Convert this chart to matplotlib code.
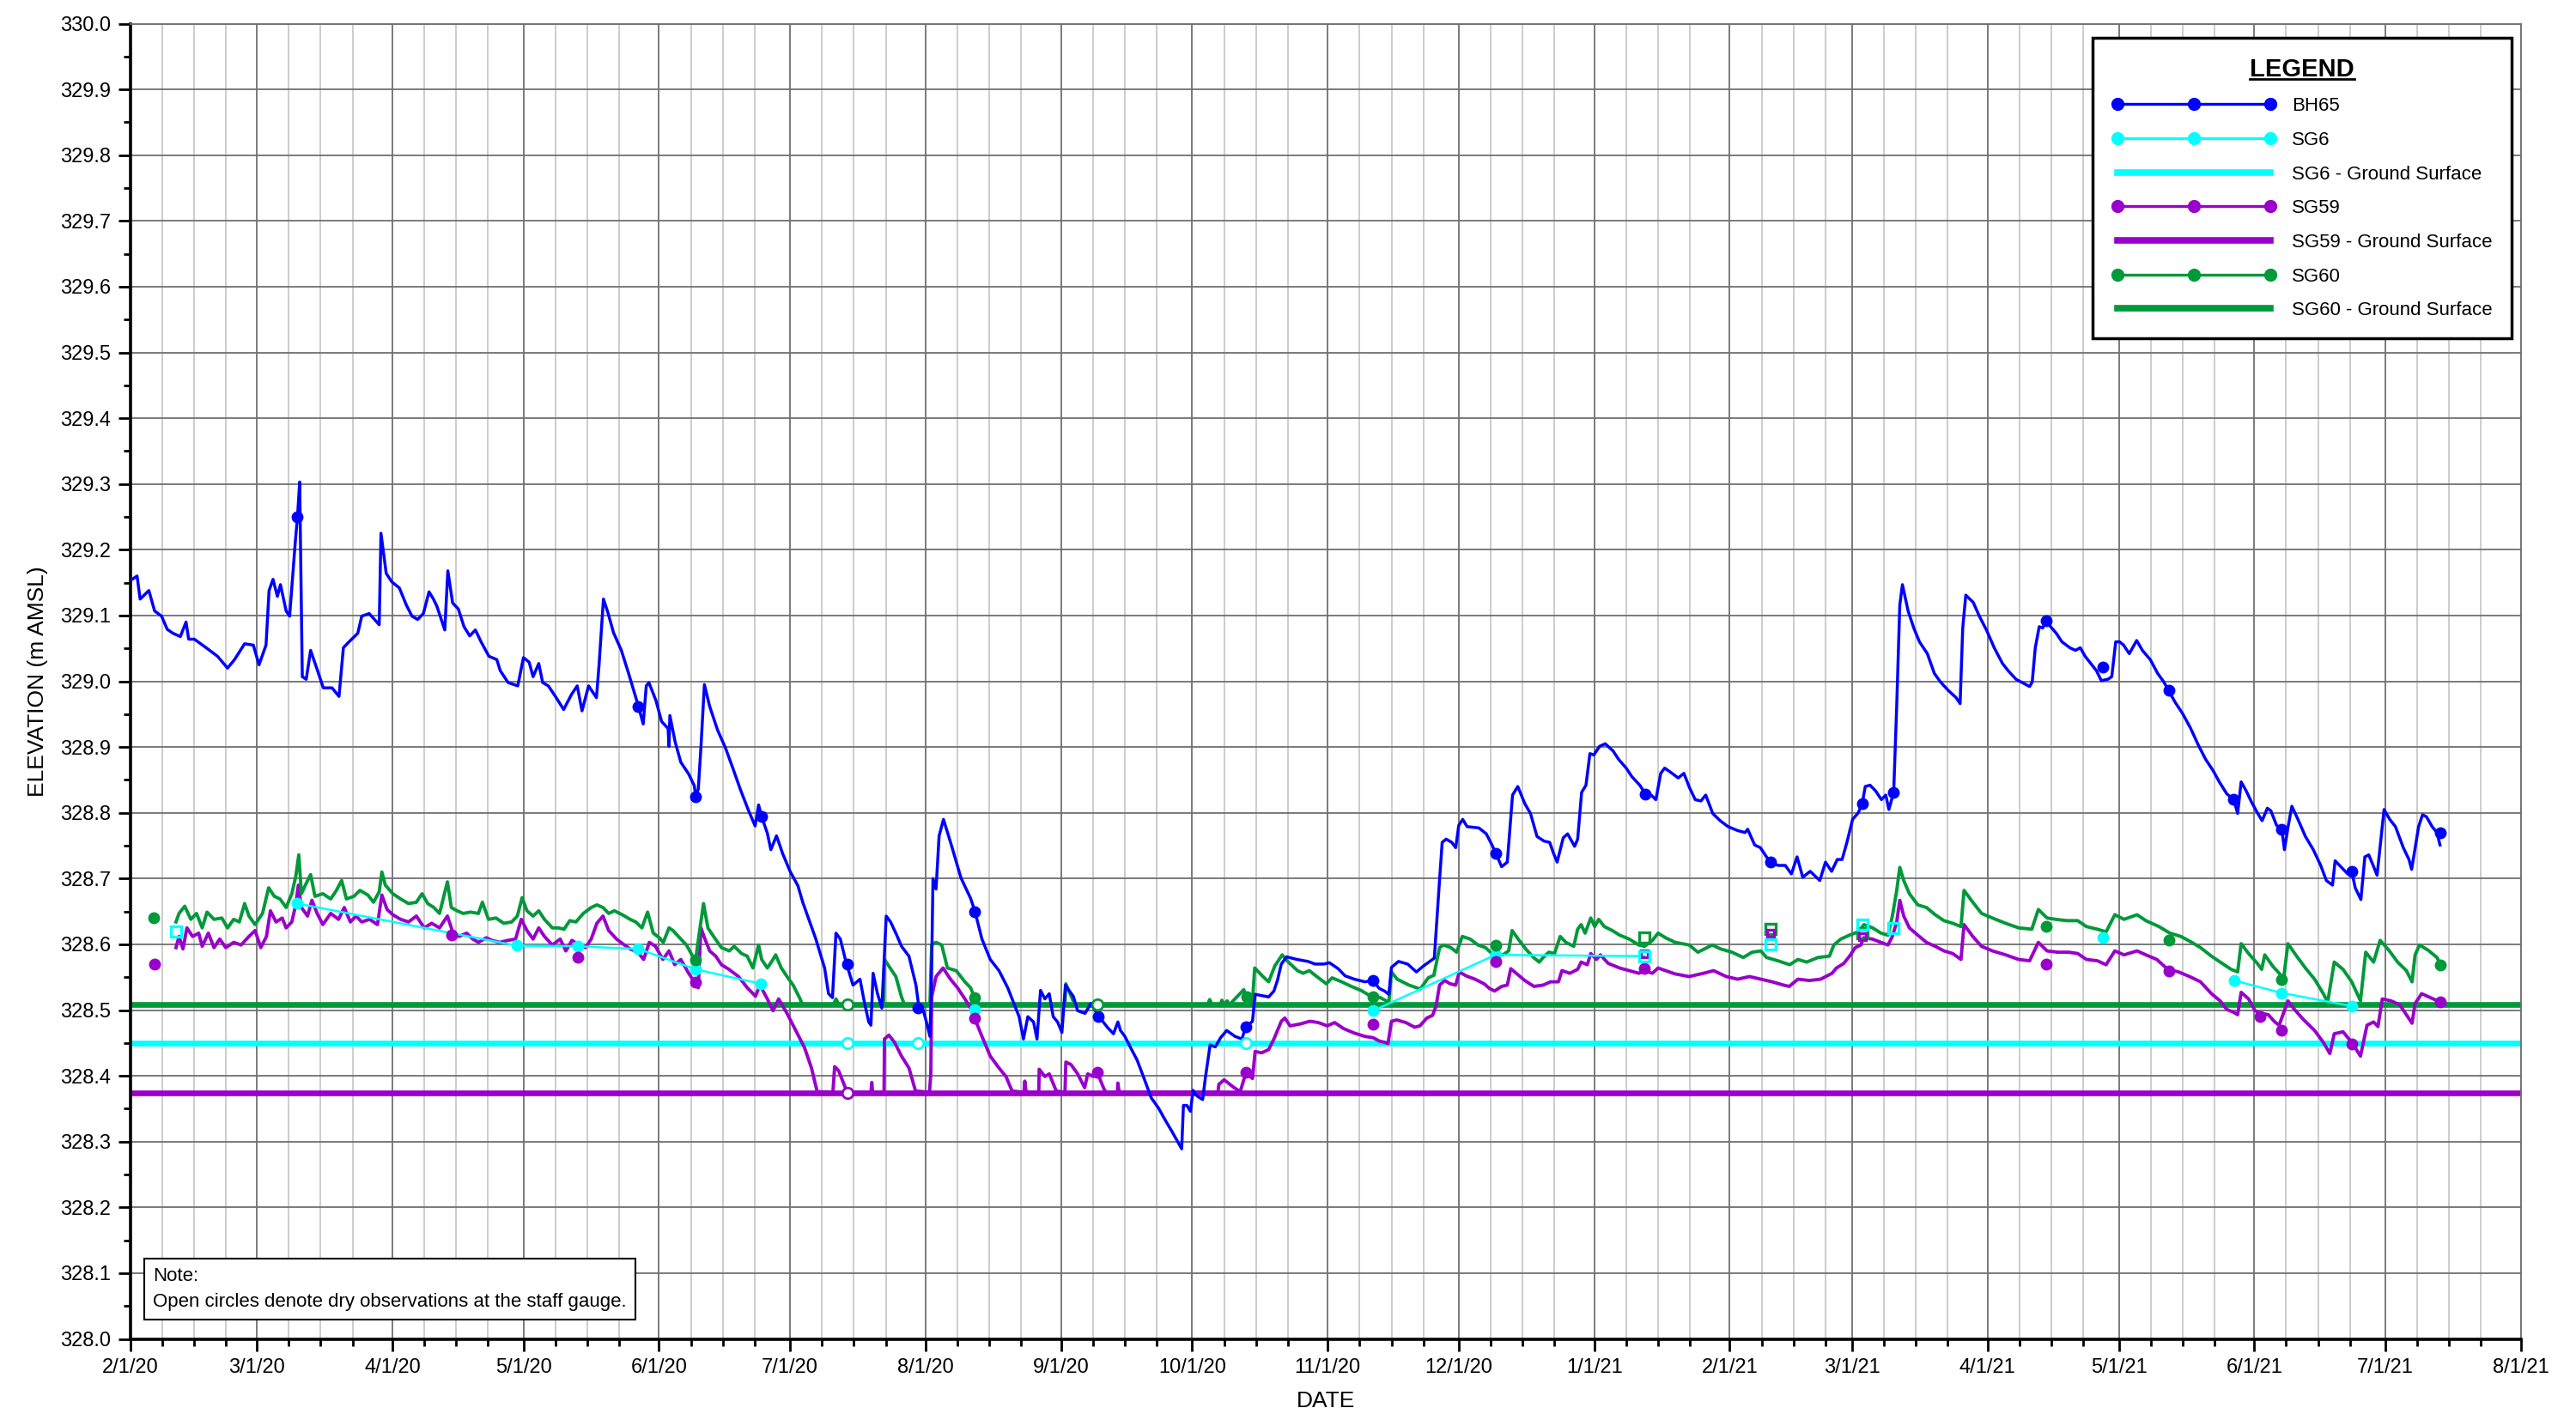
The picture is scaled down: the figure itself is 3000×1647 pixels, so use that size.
import matplotlib
matplotlib.use('Agg')
import matplotlib.pyplot as plt
import matplotlib.dates as mdates
from matplotlib.lines import Line2D
from matplotlib.ticker import FixedLocator, MultipleLocator, FormatStrFormatter
import numpy as np
import pandas as pd

nan = float('nan')
START = pd.Timestamp('2020-02-01')
END = pd.Timestamp('2021-08-01')

# logger records: (days since 2/1/20, elevation m AMSL)
bh65_log = [
    (0.0, 329.153), (1.6, 329.160), (2.3, 329.125), (4.3, 329.138), (5.6, 329.107), (7.2, 329.099),
    (8.5, 329.079), (9.8, 329.073), (11.5, 329.068), (12.8, 329.090), (13.4, 329.064), (14.7, 329.064),
    (17.4, 329.051), (20.0, 329.038), (22.3, 329.020), (23.9, 329.033), (26.2, 329.057), (28.2, 329.055),
    (29.5, 329.025), (31.1, 329.055), (31.8, 329.138), (32.7, 329.155), (33.7, 329.129), (34.4, 329.147),
    (35.7, 329.107), (36.5, 329.099), (37.0, 329.142), (37.8, 329.212), (38.3, 329.250), (38.8, 329.303),
    (39.2, 329.100), (39.4, 329.007), (40.3, 329.003), (41.3, 329.047), (42.9, 329.016), (44.2, 328.990),
    (46.2, 328.990), (47.8, 328.977), (48.8, 329.051), (50.1, 329.060), (52.1, 329.073), (53.0, 329.099),
    (54.7, 329.103), (57.0, 329.086), (57.4, 329.225), (58.6, 329.164), (59.9, 329.151), (61.6, 329.142),
    (63.2, 329.116), (64.5, 329.099), (65.8, 329.094), (67.1, 329.103), (68.4, 329.136), (69.4, 329.125),
    (70.2, 329.114), (72.0, 329.078), (72.7, 329.168), (73.8, 329.119), (75.1, 329.110), (76.4, 329.083),
    (77.7, 329.069), (79.0, 329.078), (80.3, 329.060), (82.1, 329.038), (83.9, 329.033), (84.7, 329.016),
    (86.5, 328.998), (88.7, 328.993), (90.0, 329.036), (91.3, 329.029), (92.2, 329.007), (93.5, 329.027),
    (94.4, 328.998), (95.7, 328.993), (97.5, 328.975), (99.2, 328.957), (101.0, 328.980), (102.3, 328.993),
    (103.4, 328.955), (104.9, 328.993), (106.7, 328.975), (107.3, 329.025), (108.3, 329.125), (109.3, 329.105),
    (110.6, 329.074), (112.4, 329.047), (114.1, 329.011), (115.5, 328.980), (116.3, 328.962), (117.4, 328.935),
    (118.1, 328.993), (118.7, 328.998), (120.3, 328.971), (121.6, 328.939), (123.1, 328.928), (123.3, 328.901),
    (123.5, 328.948), (124.7, 328.908), (126.0, 328.877), (127.8, 328.859), (129.1, 328.841), (129.4, 328.825),
    (130.0, 328.836), (130.6, 328.899), (131.4, 328.995), (132.6, 328.962), (134.4, 328.926), (136.2, 328.899),
    (137.9, 328.868), (139.6, 328.836), (141.4, 328.805), (143.0, 328.780), (143.8, 328.812), (144.5, 328.794),
    (145.8, 328.769), (146.6, 328.744), (147.9, 328.765), (149.3, 328.738), (151.0, 328.711), (152.8, 328.689),
    (153.9, 328.664), (156.9, 328.608), (158.9, 328.564), (159.8, 328.525), (160.7, 328.519), (161.5, 328.617),
    (162.5, 328.608), (163.8, 328.573), (165.4, 328.538), (167.0, 328.547), (168.0, 328.512), (169.0, 328.482),
    (169.5, 328.477), (170.0, 328.556), (171.0, 328.525), (172.0, 328.503), (173.0, 328.643), (174.0, 328.634),
    (175.2, 328.617), (176.5, 328.597), (178.2, 328.582), (179.8, 328.538), (180.5, 328.503), (181.5, 328.499),
    (182.4, 328.477), (183.0, 328.460), (183.3, 328.525), (183.7, 328.700), (184.4, 328.684), (185.1, 328.765),
    (186.1, 328.790), (187.9, 328.751), (190.1, 328.701), (192.3, 328.670), (193.3, 328.650), (194.9, 328.608),
    (196.8, 328.577), (198.8, 328.560), (200.8, 328.534), (202.1, 328.512), (203.4, 328.490), (204.4, 328.456),
    (205.4, 328.490), (206.7, 328.482), (207.5, 328.456), (208.3, 328.530), (209.3, 328.517), (210.3, 328.525),
    (211.2, 328.490), (212.2, 328.482), (213.2, 328.466), (214.0, 328.538), (214.8, 328.530), (215.8, 328.521),
    (216.8, 328.499), (218.5, 328.495), (219.8, 328.510), (221.7, 328.490), (223.7, 328.473), (225.0, 328.464),
    (226.0, 328.482), (226.6, 328.469), (227.6, 328.460), (228.9, 328.443), (230.4, 328.424), (232.0, 328.396),
    (233.6, 328.367), (235.3, 328.351), (236.9, 328.332), (238.5, 328.314), (240.6, 328.289), (241.0, 328.355),
    (241.8, 328.355), (242.6, 328.346), (243.2, 328.378), (244.2, 328.369), (245.4, 328.364), (246.0, 328.396),
    (247.1, 328.447), (248.3, 328.444), (249.5, 328.458), (250.9, 328.469), (252.8, 328.460), (254.4, 328.456),
    (255.2, 328.474), (256.8, 328.483), (257.4, 328.524), (258.9, 328.522), (260.5, 328.520), (261.7, 328.529),
    (262.5, 328.545), (263.4, 328.570), (264.6, 328.581), (267.0, 328.577), (269.5, 328.574), (271.1, 328.570),
    (273.1, 328.570), (274.4, 328.572), (276.4, 328.563), (278.0, 328.552), (280.1, 328.547), (282.5, 328.543),
    (284.3, 328.545), (285.8, 328.533), (287.0, 328.529), (288.0, 328.524), (288.6, 328.565), (290.2, 328.574),
    (292.3, 328.570), (294.3, 328.558), (295.9, 328.567), (298.4, 328.579), (299.6, 328.698), (300.2, 328.755),
    (301.1, 328.760), (302.4, 328.755), (303.3, 328.747), (304.0, 328.781), (304.9, 328.790), (305.9, 328.779),
    (308.6, 328.777), (310.3, 328.768), (311.6, 328.751), (312.5, 328.738), (313.8, 328.718), (315.1, 328.725),
    (316.3, 328.827), (317.5, 328.840), (319.1, 328.814), (320.4, 328.799), (321.9, 328.764), (323.5, 328.757),
    (324.8, 328.755), (325.7, 328.738), (326.5, 328.725), (327.9, 328.762), (328.9, 328.768), (330.5, 328.749),
    (331.2, 328.760), (332.1, 328.831), (333.1, 328.842), (334.0, 328.890), (334.9, 328.888), (336.2, 328.901),
    (337.5, 328.905), (339.3, 328.894), (340.6, 328.881), (342.3, 328.868), (343.6, 328.855), (345.4, 328.842),
    (346.7, 328.829), (348.0, 328.827), (349.1, 328.820), (350.2, 328.860), (351.1, 328.868), (352.4, 328.862),
    (354.2, 328.853), (355.5, 328.860), (356.8, 328.838), (358.1, 328.820), (359.4, 328.818), (360.5, 328.827),
    (362.1, 328.799), (363.8, 328.788), (365.6, 328.779), (367.8, 328.773), (369.5, 328.770), (370.1, 328.775),
    (371.7, 328.751), (373.0, 328.747), (374.4, 328.733), (375.2, 328.725), (377.0, 328.720), (378.7, 328.720),
    (380.1, 328.707), (381.4, 328.733), (382.7, 328.702), (384.4, 328.711), (386.6, 328.697), (387.9, 328.725),
    (389.3, 328.711), (390.6, 328.729), (391.7, 328.729), (392.8, 328.755), (394.1, 328.790), (395.4, 328.800),
    (396.3, 328.814), (397.0, 328.840), (398.1, 328.842), (399.4, 328.833), (400.7, 328.820), (401.7, 328.827),
    (402.4, 328.805), (403.5, 328.831), (404.2, 328.964), (404.9, 329.116), (405.5, 329.147), (406.8, 329.107),
    (408.1, 329.081), (409.4, 329.060), (411.2, 329.042), (412.8, 329.012), (414.2, 328.999), (416.0, 328.986),
    (417.8, 328.975), (418.7, 328.966), (419.3, 329.081), (420.0, 329.131), (421.7, 329.120), (423.1, 329.099),
    (424.8, 329.077), (426.5, 329.051), (428.4, 329.027), (429.7, 329.016), (431.5, 329.003), (433.2, 328.997),
    (434.6, 328.992), (435.2, 328.999), (435.9, 329.051), (436.8, 329.083), (437.6, 329.081), (438.3, 329.092),
    (439.4, 329.083), (440.7, 329.073), (442.0, 329.060), (443.8, 329.051), (445.1, 329.047), (446.2, 329.051),
    (447.3, 329.038), (448.6, 329.027), (449.9, 329.016), (451.0, 329.001), (452.5, 329.003), (453.4, 329.007),
    (454.3, 329.060), (455.2, 329.060), (456.1, 329.055), (457.4, 329.042), (459.1, 329.062), (460.4, 329.047),
    (462.2, 329.033), (463.9, 329.012), (465.3, 328.999), (466.4, 328.986), (467.9, 328.968), (469.6, 328.951),
    (471.4, 328.929), (473.2, 328.903), (474.9, 328.881), (476.6, 328.864), (478.0, 328.847), (479.7, 328.829),
    (481.3, 328.820), (482.2, 328.799), (483.0, 328.847), (484.1, 328.834), (485.4, 328.816), (486.8, 328.799),
    (487.8, 328.788), (489.0, 328.807), (489.8, 328.803), (491.1, 328.781), (492.3, 328.775), (492.9, 328.744),
    (493.8, 328.781), (494.6, 328.810), (496.0, 328.790), (497.7, 328.764), (499.5, 328.744), (501.2, 328.720),
    (502.5, 328.697), (503.9, 328.690), (504.5, 328.727), (506.1, 328.716), (507.4, 328.707), (508.3, 328.711),
    (509.1, 328.686), (510.4, 328.668), (511.3, 328.733), (512.2, 328.736), (513.2, 328.720), (514.1, 328.705),
    (515.7, 328.805), (517.0, 328.790), (518.3, 328.779), (520.1, 328.747), (521.4, 328.729), (522.0, 328.714),
    (522.7, 328.742), (523.6, 328.779), (524.5, 328.797), (525.4, 328.794), (526.7, 328.779), (527.8, 328.770),
    (528.5, 328.751),
]

sg60_log = [
    (10.5, 328.634), (11.2, 328.647), (12.5, 328.658), (13.9, 328.638), (15.2, 328.647), (16.5, 328.625),
    (17.6, 328.649), (19.2, 328.638), (21.0, 328.640), (22.3, 328.625), (23.7, 328.638), (25.0, 328.634),
    (26.2, 328.662), (27.2, 328.643), (28.6, 328.630), (30.3, 328.647), (31.7, 328.686), (33.0, 328.673),
    (34.3, 328.669), (35.7, 328.656), (37.0, 328.677), (37.9, 328.703), (38.6, 328.736), (39.2, 328.677),
    (40.1, 328.690), (41.3, 328.706), (42.3, 328.673), (44.1, 328.677), (45.9, 328.669), (47.2, 328.682),
    (48.4, 328.697), (49.5, 328.669), (51.2, 328.673), (52.6, 328.682), (54.4, 328.675), (55.7, 328.664),
    (57.0, 328.680), (57.6, 328.710), (58.4, 328.690), (60.1, 328.677), (61.9, 328.669), (63.7, 328.662),
    (65.5, 328.664), (66.8, 328.677), (68.1, 328.662), (69.5, 328.656), (70.8, 328.647), (72.6, 328.695),
    (73.5, 328.656), (74.8, 328.651), (76.2, 328.647), (77.9, 328.649), (79.7, 328.647), (80.6, 328.664),
    (82.0, 328.638), (83.7, 328.640), (85.5, 328.632), (87.3, 328.634), (88.6, 328.643), (89.7, 328.671),
    (90.8, 328.651), (92.2, 328.643), (93.5, 328.651), (94.8, 328.638), (96.6, 328.625), (98.0, 328.625),
    (99.3, 328.623), (100.6, 328.636), (102.0, 328.634), (103.7, 328.647), (105.5, 328.656), (106.8, 328.660),
    (108.2, 328.656), (109.5, 328.647), (110.8, 328.651), (112.6, 328.645), (114.4, 328.638), (115.7, 328.634),
    (117.1, 328.625), (118.4, 328.649), (119.7, 328.617), (121.1, 328.610), (122.0, 328.603), (123.3, 328.625),
    (124.2, 328.621), (126.0, 328.608), (127.3, 328.599), (128.7, 328.582), (129.4, 328.577), (130.4, 328.625),
    (131.2, 328.662), (132.2, 328.625), (133.5, 328.612), (135.3, 328.595), (137.1, 328.590), (138.2, 328.597),
    (139.9, 328.586), (141.2, 328.582), (142.5, 328.564), (143.8, 328.599), (144.5, 328.577), (145.8, 328.564),
    (147.1, 328.577), (147.7, 328.584), (149.0, 328.564), (150.3, 328.551), (151.7, 328.538), (153.3, 328.517),
    (153.8, 328.508), (160.9, 328.508), (161.5, 328.517), (162.2, 328.508), (172.4, 328.508), (172.6, 328.577),
    (175.2, 328.551), (176.5, 328.520), (177.2, 328.508), (183.0, 328.508), (183.4, 328.599), (184.4, 328.603),
    (185.7, 328.599), (187.0, 328.564), (189.0, 328.560), (191.0, 328.543), (192.3, 328.534), (193.2, 328.519),
    (194.0, 328.508), (213.9, 328.508), (214.1, 328.540), (215.7, 328.515), (216.5, 328.508), (246.5, 328.508),
    (247.0, 328.516), (247.6, 328.508), (249.4, 328.508), (249.8, 328.515), (250.3, 328.508), (251.0, 328.514),
    (251.5, 328.508), (254.8, 328.531), (255.5, 328.519), (256.8, 328.513), (257.3, 328.564), (259.2, 328.551),
    (260.5, 328.543), (261.9, 328.567), (263.6, 328.584), (265.0, 328.573), (267.1, 328.560), (268.4, 328.556),
    (269.8, 328.560), (271.5, 328.551), (273.7, 328.540), (275.0, 328.549), (277.2, 328.543), (279.4, 328.536),
    (281.6, 328.530), (283.4, 328.523), (286.0, 328.519), (288.0, 328.512), (288.6, 328.558), (289.9, 328.547),
    (292.6, 328.538), (295.2, 328.532), (297.0, 328.549), (298.3, 328.553), (299.6, 328.595), (300.5, 328.599),
    (302.2, 328.595), (303.5, 328.588), (304.8, 328.612), (306.6, 328.608), (308.4, 328.599), (310.1, 328.595),
    (311.9, 328.584), (314.1, 328.584), (315.4, 328.590), (316.2, 328.621), (317.6, 328.608), (319.3, 328.593),
    (321.1, 328.580), (322.4, 328.573), (323.3, 328.580), (324.6, 328.588), (325.9, 328.586), (327.2, 328.612),
    (328.5, 328.603), (330.3, 328.597), (331.2, 328.623), (332.0, 328.630), (332.9, 328.617), (334.2, 328.640),
    (335.1, 328.627), (336.0, 328.638), (337.3, 328.627), (339.1, 328.621), (340.8, 328.614), (343.0, 328.608),
    (345.2, 328.599), (346.5, 328.597), (348.3, 328.606), (349.6, 328.617), (351.3, 328.610), (353.5, 328.603),
    (356.7, 328.599), (358.7, 328.588), (362.0, 328.599), (363.9, 328.593), (366.5, 328.588), (369.1, 328.580),
    (371.1, 328.588), (373.1, 328.590), (374.4, 328.580), (377.0, 328.575), (379.7, 328.569), (381.6, 328.577),
    (383.6, 328.573), (386.2, 328.580), (388.8, 328.582), (389.8, 328.599), (391.4, 328.608), (393.4, 328.614),
    (395.4, 328.619), (396.7, 328.630), (398.7, 328.625), (400.6, 328.617), (402.2, 328.614), (403.2, 328.643),
    (404.2, 328.682), (404.9, 328.717), (405.8, 328.697), (407.1, 328.677), (409.0, 328.660), (411.0, 328.656),
    (413.0, 328.645), (415.0, 328.636), (417.0, 328.632), (418.9, 328.627), (419.6, 328.682), (421.6, 328.664),
    (423.6, 328.647), (426.1, 328.640), (429.1, 328.632), (432.1, 328.625), (435.1, 328.623), (436.6, 328.653),
    (438.6, 328.640), (440.6, 328.638), (443.1, 328.636), (445.6, 328.636), (447.6, 328.627), (450.1, 328.623),
    (452.1, 328.619), (454.1, 328.645), (456.2, 328.638), (459.2, 328.645), (461.2, 328.636), (464.2, 328.627),
    (466.7, 328.617), (469.2, 328.612), (471.7, 328.603), (473.7, 328.595), (476.2, 328.582), (478.2, 328.573),
    (480.7, 328.562), (482.2, 328.558), (483.0, 328.601), (484.7, 328.586), (486.7, 328.571), (487.7, 328.562),
    (488.4, 328.584), (490.2, 328.567), (491.7, 328.556), (492.7, 328.547), (493.7, 328.601), (495.7, 328.582),
    (497.7, 328.564), (499.8, 328.547), (501.8, 328.525), (502.8, 328.512), (504.3, 328.573), (506.3, 328.562),
    (508.3, 328.543), (510.3, 328.514), (511.5, 328.588), (513.3, 328.573), (514.8, 328.606), (516.8, 328.591),
    (518.8, 328.573), (520.8, 328.560), (522.1, 328.543), (522.8, 328.584), (523.8, 328.599), (525.8, 328.591),
    (527.8, 328.580), (528.6, 328.569),
]

sg59_log = [
    (10.5, 328.595), (11.2, 328.612), (12.1, 328.593), (13.0, 328.625), (14.3, 328.612), (15.7, 328.617),
    (16.5, 328.597), (17.9, 328.617), (19.2, 328.595), (20.5, 328.608), (21.9, 328.595), (23.7, 328.603),
    (25.4, 328.599), (27.2, 328.612), (28.6, 328.621), (29.9, 328.595), (31.2, 328.612), (32.1, 328.651),
    (33.4, 328.634), (34.8, 328.640), (35.7, 328.625), (37.0, 328.634), (37.9, 328.660), (38.5, 328.690),
    (39.2, 328.656), (40.6, 328.643), (41.6, 328.667), (42.8, 328.647), (44.1, 328.630), (45.9, 328.647),
    (47.7, 328.638), (49.0, 328.656), (50.4, 328.634), (51.7, 328.643), (53.0, 328.634), (54.8, 328.638),
    (56.6, 328.630), (57.6, 328.675), (58.8, 328.653), (60.1, 328.645), (61.9, 328.638), (63.7, 328.634),
    (65.5, 328.643), (67.3, 328.625), (69.0, 328.632), (70.8, 328.625), (72.6, 328.643), (73.9, 328.617),
    (75.3, 328.612), (77.0, 328.617), (78.4, 328.608), (79.7, 328.603), (81.5, 328.610), (82.8, 328.606),
    (84.6, 328.603), (86.4, 328.606), (88.2, 328.608), (89.5, 328.638), (90.8, 328.621), (92.2, 328.608),
    (93.5, 328.625), (94.8, 328.612), (96.6, 328.599), (98.4, 328.608), (99.7, 328.590), (101.1, 328.606),
    (102.8, 328.599), (104.2, 328.595), (105.5, 328.608), (106.8, 328.632), (108.2, 328.643), (109.5, 328.621),
    (111.3, 328.608), (113.1, 328.599), (114.4, 328.593), (116.2, 328.588), (117.5, 328.577), (118.8, 328.603),
    (120.2, 328.597), (121.9, 328.577), (123.3, 328.590), (124.6, 328.569), (126.0, 328.577), (127.8, 328.556),
    (129.1, 328.543), (130.0, 328.534), (130.6, 328.625), (131.3, 328.612), (132.6, 328.590), (134.0, 328.582),
    (135.3, 328.569), (137.0, 328.562), (139.2, 328.551), (141.2, 328.534), (143.1, 328.521), (144.1, 328.538),
    (145.8, 328.517), (147.1, 328.499), (148.4, 328.517), (150.3, 328.495), (152.3, 328.469), (154.3, 328.443),
    (155.9, 328.412), (157.2, 328.376), (160.8, 328.375), (161.2, 328.414), (162.1, 328.408), (163.4, 328.386),
    (164.1, 328.375), (169.5, 328.375), (169.7, 328.390), (169.9, 328.375), (172.5, 328.375), (172.6, 328.456),
    (173.6, 328.462), (174.9, 328.451), (176.5, 328.430), (178.2, 328.412), (179.7, 328.377), (182.9, 328.375),
    (183.2, 328.403), (183.4, 328.520), (184.4, 328.551), (186.0, 328.564), (187.7, 328.547), (189.3, 328.534),
    (191.0, 328.517), (192.3, 328.503), (193.2, 328.488), (194.9, 328.460), (196.8, 328.430), (198.8, 328.412),
    (200.4, 328.399), (201.8, 328.377), (204.5, 328.375), (204.7, 328.392), (205.0, 328.375), (207.9, 328.375),
    (208.0, 328.410), (209.3, 328.399), (210.3, 328.403), (211.9, 328.377), (213.9, 328.375), (214.1, 328.421),
    (215.3, 328.417), (216.8, 328.403), (218.4, 328.382), (219.1, 328.403), (220.4, 328.399), (221.3, 328.405),
    (222.7, 328.382), (223.2, 328.375), (225.9, 328.375), (226.0, 328.389), (226.3, 328.375), (248.9, 328.375),
    (249.1, 328.387), (250.3, 328.394), (252.4, 328.383), (254.0, 328.376), (255.3, 328.405), (256.8, 328.396),
    (257.4, 328.437), (258.9, 328.435), (260.5, 328.440), (261.7, 328.456), (263.4, 328.483), (264.2, 328.488),
    (265.4, 328.476), (267.8, 328.479), (269.9, 328.483), (271.9, 328.481), (273.9, 328.476), (275.6, 328.481),
    (277.6, 328.472), (280.1, 328.465), (282.5, 328.460), (284.4, 328.458), (285.8, 328.453), (287.0, 328.451),
    (287.8, 328.449), (288.6, 328.483), (289.8, 328.485), (291.9, 328.481), (293.9, 328.474), (295.1, 328.476),
    (296.7, 328.488), (298.0, 328.492), (298.8, 328.506), (299.6, 328.538), (300.8, 328.545), (302.0, 328.540),
    (303.3, 328.538), (304.1, 328.558), (305.7, 328.552), (307.7, 328.547), (309.8, 328.540), (311.0, 328.533),
    (312.2, 328.529), (313.8, 328.536), (315.1, 328.538), (315.9, 328.563), (317.5, 328.554), (319.1, 328.545),
    (321.2, 328.536), (323.3, 328.538), (325.0, 328.543), (326.8, 328.543), (327.6, 328.560), (329.4, 328.556),
    (331.2, 328.562), (332.0, 328.573), (333.4, 328.569), (334.2, 328.586), (335.5, 328.577), (336.4, 328.584),
    (338.2, 328.571), (340.8, 328.564), (343.0, 328.560), (345.2, 328.556), (346.5, 328.560), (348.3, 328.556),
    (349.6, 328.564), (351.3, 328.560), (353.5, 328.555), (356.7, 328.551), (360.0, 328.556), (362.3, 328.560),
    (365.2, 328.551), (367.8, 328.547), (370.5, 328.551), (373.1, 328.547), (375.7, 328.543), (378.3, 328.538),
    (379.6, 328.536), (381.6, 328.547), (384.2, 328.545), (386.8, 328.547), (389.4, 328.556), (390.4, 328.564),
    (392.1, 328.571), (393.4, 328.582), (394.7, 328.595), (396.0, 328.599), (396.6, 328.610), (398.6, 328.608),
    (400.6, 328.603), (402.2, 328.599), (403.2, 328.612), (404.2, 328.634), (404.9, 328.667), (405.8, 328.643),
    (407.1, 328.625), (409.0, 328.614), (411.0, 328.603), (413.0, 328.597), (415.0, 328.590), (417.0, 328.586),
    (418.9, 328.577), (419.6, 328.630), (421.6, 328.612), (423.6, 328.597), (426.1, 328.590), (429.1, 328.584),
    (432.1, 328.577), (434.6, 328.575), (436.6, 328.603), (438.6, 328.590), (441.1, 328.588), (443.6, 328.588),
    (445.6, 328.586), (447.6, 328.577), (450.1, 328.575), (452.1, 328.569), (454.1, 328.590), (456.2, 328.584),
    (459.2, 328.590), (461.2, 328.584), (463.7, 328.577), (466.2, 328.562), (468.7, 328.558), (471.2, 328.551),
    (473.7, 328.543), (476.2, 328.525), (478.2, 328.514), (479.7, 328.501), (481.2, 328.497), (482.2, 328.493),
    (483.0, 328.527), (484.7, 328.517), (486.2, 328.499), (487.7, 328.495), (489.2, 328.493), (490.7, 328.482),
    (491.7, 328.477), (493.7, 328.514), (495.2, 328.501), (497.2, 328.486), (499.8, 328.469), (501.8, 328.451),
    (503.3, 328.434), (504.3, 328.464), (506.3, 328.467), (508.3, 328.451), (510.3, 328.430), (511.8, 328.477),
    (513.3, 328.482), (514.3, 328.475), (515.3, 328.517), (517.3, 328.514), (519.3, 328.508), (520.8, 328.493),
    (522.1, 328.480), (522.8, 328.510), (524.3, 328.525), (526.3, 328.519), (528.6, 328.512),
]

# staff gauge / manual readings
bh65_obs = [
    (38.3, 329.250), (116.3, 328.962), (129.4, 328.825), (144.4, 328.794), (164.2, 328.570), (180.3, 328.503),
    (193.3, 328.650), (221.6, 328.490), (255.3, 328.474), (284.4, 328.545), (312.4, 328.738), (346.6, 328.829),
    (375.3, 328.725), (396.3, 328.814), (403.5, 328.831), (438.3, 329.092), (451.4, 329.021), (466.4, 328.986),
    (481.3, 328.820), (492.3, 328.775), (508.3, 328.711), (528.5, 328.770),
]
sg6_obs = [
    (38.3, 328.662), (88.5, 328.598), (102.4, 328.597), (116.3, 328.593), (129.4, 328.562), (144.3, 328.540),
    (150.0, nan), (193.2, 328.501), (200.0, nan),
    (284.4, 328.499), (312.4, 328.584), (346.5, 328.582), (350.0, nan),
    (451.4, 328.611), (460.0, nan),
    (481.4, 328.545), (492.3, 328.526), (508.4, 328.506),
]
sg59_obs = [
    (5.6, 328.570), (73.5, 328.614), (102.4, 328.580), (129.4, 328.543), (193.2, 328.488), (221.3, 328.405),
    (255.3, 328.405), (284.4, 328.479), (312.4, 328.574), (346.5, 328.564), (438.3, 328.570), (466.4, 328.560),
    (487.4, 328.490), (492.3, 328.470), (508.4, 328.449), (528.6, 328.512),
]
sg60_obs = [
    (5.4, 328.640), (129.4, 328.577), (193.2, 328.519), (255.4, 328.520), (284.4, 328.520), (312.4, 328.598),
    (438.3, 328.627), (466.4, 328.607), (492.3, 328.547), (528.6, 328.568),
]
# dry readings (gauge reads ground surface)
sg6_dry = [(164.2, 328.450), (180.3, 328.450), (255.3, 328.450)]
sg59_dry = [(164.2, 328.374)]
sg60_dry = [(164.2, 328.508), (221.4, 328.508)]
# square symbols
sg6_sq = [(10.5, 328.620), (346.5, 328.582), (375.4, 328.600), (396.3, 328.630), (403.4, 328.625)]
sg59_sq = [(346.5, 328.585), (375.4, 328.617), (396.3, 328.612)]
sg60_sq = [(346.5, 328.610), (375.4, 328.623), (396.3, 328.617)]

sg6_ground = 328.450
sg59_ground = 328.374
sg60_ground = 328.508

series_names = ['BH65', 'SG6', 'SG6 - Ground Surface', 'SG59', 'SG59 - Ground Surface',
                'SG60', 'SG60 - Ground Surface']
note_text = 'Note:\nOpen circles denote dry observations at the staff gauge.'

BLUE = '#0000FF'
CYAN = '#00FFFF'
PURPLE = '#9900CC'
GREEN = '#00993A'
FONT = ['Liberation Sans', 'DejaVu Sans']

plt.rcParams['font.family'] = FONT


def unpack(pairs):
    d = np.array([p[0] for p in pairs], dtype=float)
    v = np.array([p[1] for p in pairs], dtype=float)
    return START + pd.to_timedelta(d, unit='D'), v


fig = plt.figure(figsize=(30, 16.47), dpi=100)
ax = fig.add_axes([0.0505, 0.0531, 0.9281, 0.9302])

# ground surface references
for g, c in [(sg60_ground, GREEN), (sg6_ground, CYAN), (sg59_ground, PURPLE)]:
    ax.axhline(g, color=c, lw=4.8, zorder=2, solid_capstyle='butt')

# continuous loggers
x, y = unpack(sg59_log)
ax.plot(x, y, color=PURPLE, lw=2.8, zorder=3)
x, y = unpack(sg60_log)
ax.plot(x, y, color=GREEN, lw=2.8, zorder=3)
x, y = unpack(bh65_log)
ax.plot(x, y, color=BLUE, lw=2.5, zorder=4)

# manual readings
x, y = unpack(sg6_obs)
ax.plot(x, y, color=CYAN, lw=1.8, zorder=5)
sq_days = {p[0] for p in sg6_sq}
x, y = unpack([p for p in sg6_obs if p[0] not in sq_days and not np.isnan(p[1])])
ax.plot(x, y, 'o', color=CYAN, ms=9, zorder=6)
for obs, c in [(bh65_obs, BLUE), (sg59_obs, PURPLE), (sg60_obs, GREEN)]:
    x, y = unpack(obs)
    ax.plot(x, y, 'o', color=c, ms=9, zorder=6)
for dry, c in [(sg6_dry, CYAN), (sg59_dry, PURPLE), (sg60_dry, GREEN)]:
    x, y = unpack(dry)
    ax.plot(x, y, 'o', mfc='white', mec=c, mew=2, ms=9, zorder=7)
for sq, c, s in [(sg60_sq, GREEN, 8.5), (sg59_sq, PURPLE, 6), (sg6_sq, CYAN, 8.5)]:
    x, y = unpack(sq)
    ax.plot(x, y, 's', mfc='none', mec=c, mew=2.4, ms=s, zorder=7)

# axes, ticks and grid
ax.set_xlim(START, END)
ax.set_ylim(328.0, 330.0)
month_starts = pd.date_range(START, END, freq='MS')
month_labels = [f'{d.month}/{d.day}/{d.year % 100}' for d in month_starts]
week_ticks = [m + pd.Timedelta(days=7.3 * k) for m in month_starts[:-1] for k in (1, 2, 3)]
ax.xaxis.set_major_locator(FixedLocator(mdates.date2num(month_starts)))
ax.xaxis.set_minor_locator(FixedLocator(mdates.date2num(week_ticks)))
ax.set_xticklabels(month_labels)
ax.yaxis.set_major_locator(MultipleLocator(0.1))
ax.yaxis.set_minor_locator(MultipleLocator(0.05))
ax.yaxis.set_major_formatter(FormatStrFormatter('%.1f'))

ax.grid(which='major', axis='both', color='#707070', lw=1.3, zorder=0)
ax.grid(which='minor', axis='x', color='#c8c8c8', lw=1.3, zorder=0)
ax.set_axisbelow(True)
ax.tick_params(which='major', direction='out', length=10, width=2, labelsize=17, pad=6)
ax.tick_params(which='minor', direction='out', length=6, width=2)
for side in ('left', 'bottom'):
    ax.spines[side].set_linewidth(2.6)
    ax.spines[side].set_color('black')
for side in ('top', 'right'):
    ax.spines[side].set_linewidth(1.3)
    ax.spines[side].set_color('#707070')

ax.set_ylabel('ELEVATION (m AMSL)', fontsize=19, labelpad=10)
ax.set_xlabel('DATE', fontsize=19, labelpad=12)

# legend
handles = [
    Line2D([], [], color=BLUE, lw=2.4, marker='o', ms=10),
    Line2D([], [], color=CYAN, lw=2.4, marker='o', ms=10),
    Line2D([], [], color=CYAN, lw=5.5),
    Line2D([], [], color=PURPLE, lw=2.4, marker='o', ms=10),
    Line2D([], [], color=PURPLE, lw=5.5),
    Line2D([], [], color=GREEN, lw=2.4, marker='o', ms=10),
    Line2D([], [], color=GREEN, lw=5.5),
]
leg = ax.legend(handles, series_names, loc='upper right', bbox_to_anchor=(0.9962, 0.989),
                numpoints=3, handlelength=8.6, handletextpad=0.85, labelspacing=0.84,
                borderpad=1.0, borderaxespad=0, fontsize=16, title='LEGEND',
                title_fontproperties={'weight': 'bold', 'size': 21, 'family': FONT},
                fancybox=False, framealpha=1, edgecolor='black')
leg.get_frame().set_linewidth(2.5)
leg.set_zorder(20)

ax.text(0.0095, 0.021, note_text, transform=ax.transAxes, fontsize=16, ha='left', va='bottom',
        linespacing=1.6, zorder=20,
        bbox=dict(boxstyle='square,pad=0.45', fc='white', ec='black', lw=1.5))

# underline the legend title
fig.canvas.draw()
tb = leg.get_title().get_window_extent()
inv = fig.transFigure.inverted()
(x0, y0), (x1, _) = inv.transform([(tb.x0, tb.y0 + 3), (tb.x1, tb.y0 + 3)])
fig.add_artist(Line2D([x0, x1], [y0, y0], color='black', lw=2, zorder=30))

fig.savefig('out.png', dpi=100)
